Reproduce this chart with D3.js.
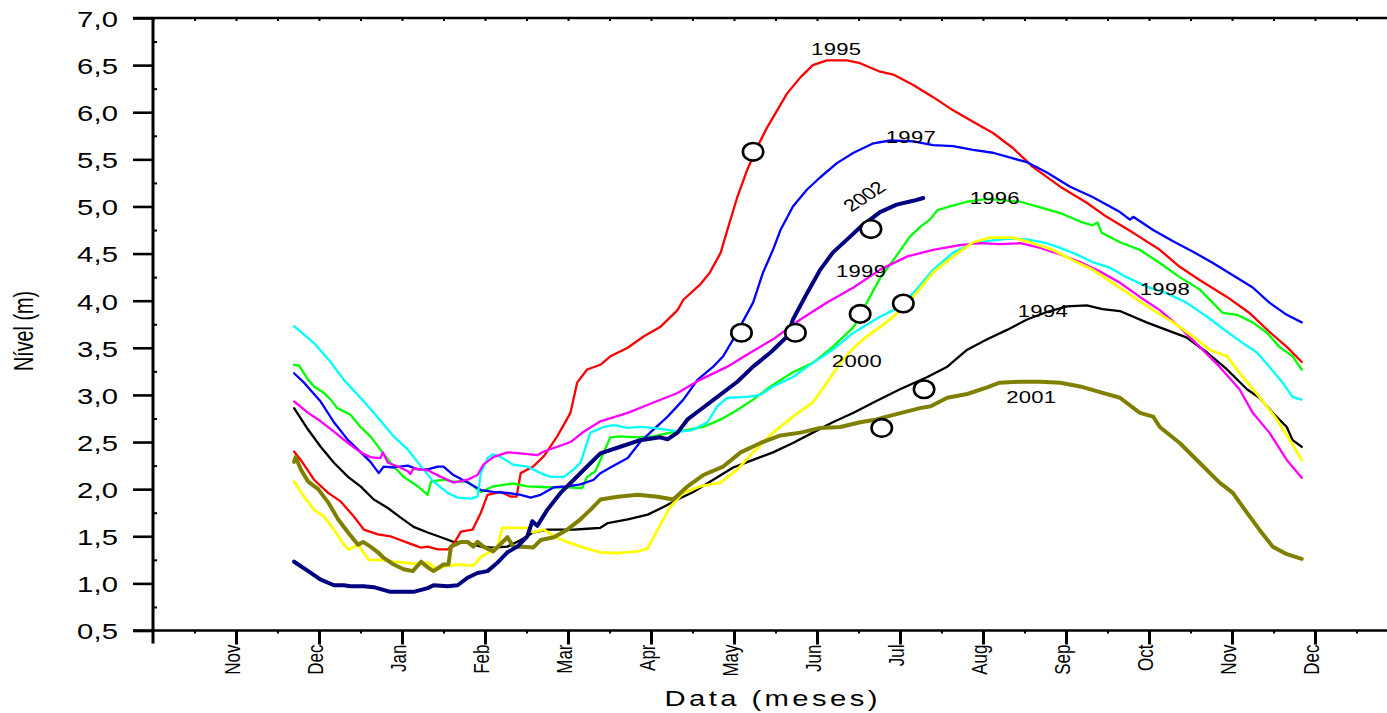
<!DOCTYPE html>
<html>
<head>
<meta charset="utf-8">
<script src="https://cdn.jsdelivr.net/npm/d3@7"></script>
<style>
  html, body { margin: 0; padding: 0; background: #fff; }
  svg { display: block; }
  text { font-family: "Liberation Sans", Arial, sans-serif; fill: #000; }
</style>
</head>
<body>
<svg id="chart" width="1387" height="713"></svg>
<script>
// Water level (m) per hydrological year, x = months elapsed since 1 October
const monthLabels = ["", "Nov", "Dec", "Jan", "Feb", "Mar", "Apr", "May", "Jun", "Jul", "Aug", "Sep", "Oct", "Nov", "Dec"];
const yTicks = [0.5, 1.0, 1.5, 2.0, 2.5, 3.0, 3.5, 4.0, 4.5, 5.0, 5.5, 6.0, 6.5, 7.0];

const years = ["1994", "1995", "1996", "1997", "1998", "1999", "2000", "2001", "2002"];
const colors = ["#000000", "#ff0000", "#00ff00", "#0000ff", "#00ffff", "#ff00ff", "#ffff00", "#808000", "#000080"];
const widths = [2.3, 2.3, 2.3, 2.3, 2.3, 2.3, 2.8, 4, 4];

const level1994 = [[1.70,2.86],[1.87,2.63],[2.02,2.45],[2.18,2.28],[2.35,2.13],[2.50,2.03],[2.66,1.89],[2.83,1.80],[2.98,1.70],[3.14,1.60],[3.31,1.54],[3.47,1.49],[3.62,1.44],[3.79,1.43],[3.95,1.39],[4.10,1.38],[4.27,1.39],[4.43,1.46],[4.58,1.54],[4.75,1.57],[4.91,1.57],[5.07,1.57],[5.23,1.58],[5.39,1.59],[5.48,1.64],[5.72,1.68],[5.96,1.73],[6.15,1.81],[6.32,1.89],[6.51,1.97],[6.75,2.10],[6.99,2.23],[7.23,2.31],[7.47,2.39],[7.71,2.49],[7.95,2.60],[8.19,2.71],[8.44,2.81],[8.68,2.92],[9.00,3.06],[9.33,3.19],[9.57,3.30],[9.81,3.48],[10.05,3.59],[10.29,3.69],[10.53,3.80],[10.77,3.88],[11.01,3.94],[11.25,3.95],[11.44,3.91],[11.65,3.89],[11.97,3.77],[12.21,3.69],[12.45,3.61],[12.70,3.45],[12.94,3.27],[13.18,3.06],[13.33,2.97],[13.49,2.81],[13.66,2.66],[13.73,2.52],[13.84,2.45]];

const level1995 = [[1.70,2.40],[1.78,2.31],[1.94,2.10],[2.11,1.96],[2.26,1.87],[2.42,1.71],[2.54,1.57],[2.71,1.52],[2.86,1.50],[3.07,1.43],[3.23,1.38],[3.31,1.39],[3.43,1.36],[3.55,1.36],[3.63,1.43],[3.71,1.55],[3.85,1.57],[3.95,1.75],[4.03,1.94],[4.19,1.97],[4.31,1.92],[4.38,1.92],[4.43,2.17],[4.58,2.24],[4.71,2.35],[4.87,2.56],[5.03,2.81],[5.11,3.13],[5.23,3.27],[5.39,3.32],[5.51,3.41],[5.72,3.50],[5.91,3.62],[6.11,3.72],[6.32,3.90],[6.39,4.01],[6.59,4.17],[6.71,4.30],[6.84,4.51],[6.92,4.75],[7.04,5.10],[7.16,5.39],[7.28,5.63],[7.40,5.84],[7.52,6.02],[7.64,6.20],[7.80,6.37],[7.95,6.50],[8.12,6.55],[8.36,6.55],[8.52,6.52],[8.76,6.43],[8.92,6.40],[9.16,6.29],[9.40,6.16],[9.64,6.02],[9.88,5.90],[10.12,5.78],[10.36,5.62],[10.60,5.42],[10.93,5.21],[11.25,5.04],[11.49,4.89],[11.81,4.72],[12.13,4.54],[12.37,4.36],[12.61,4.22],[12.94,4.04],[13.21,3.87],[13.45,3.67],[13.66,3.51],[13.84,3.35]];

const level1996 = [[1.70,3.32],[1.76,3.31],[1.87,3.16],[1.94,3.09],[2.06,3.02],[2.14,2.95],[2.22,2.86],[2.38,2.79],[2.50,2.66],[2.62,2.56],[2.74,2.42],[2.86,2.28],[3.02,2.13],[3.19,2.03],[3.31,1.94],[3.35,2.08],[3.50,2.10],[3.62,2.08],[3.79,2.08],[3.95,1.97],[4.10,2.03],[4.34,2.06],[4.51,2.03],[4.75,2.02],[4.99,2.02],[5.17,2.01],[5.23,2.13],[5.33,2.19],[5.39,2.31],[5.51,2.55],[5.63,2.56],[5.84,2.55],[6.03,2.56],[6.23,2.60],[6.44,2.63],[6.63,2.66],[6.84,2.74],[7.04,2.84],[7.23,2.95],[7.44,3.09],[7.71,3.24],[7.95,3.34],[8.19,3.51],[8.44,3.72],[8.60,3.98],[8.76,4.24],[8.92,4.43],[9.12,4.68],[9.24,4.78],[9.36,4.86],[9.45,4.96],[9.60,5.00],[9.81,5.05],[10.05,5.08],[10.20,5.07],[10.45,5.05],[10.69,4.99],[10.93,4.93],[11.17,4.84],[11.32,4.80],[11.38,4.83],[11.43,4.72],[11.65,4.62],[11.89,4.54],[12.13,4.40],[12.37,4.25],[12.61,4.12],[12.89,3.87],[13.06,3.85],[13.25,3.77],[13.42,3.66],[13.57,3.51],[13.73,3.41],[13.84,3.27]];

const level1997 = [[1.70,3.23],[1.82,3.13],[2.02,2.93],[2.18,2.71],[2.35,2.52],[2.47,2.42],[2.62,2.29],[2.72,2.17],[2.78,2.24],[2.90,2.23],[3.07,2.25],[3.19,2.21],[3.31,2.21],[3.43,2.24],[3.50,2.24],[3.62,2.15],[3.79,2.07],[3.95,1.99],[4.10,1.97],[4.27,1.96],[4.43,1.94],[4.55,1.91],[4.67,1.94],[4.83,2.02],[4.99,2.03],[5.15,2.05],[5.31,2.10],[5.39,2.17],[5.51,2.23],[5.72,2.33],[5.87,2.50],[5.99,2.60],[6.20,2.77],[6.39,2.95],[6.56,3.16],[6.75,3.30],[6.87,3.41],[6.99,3.59],[7.23,3.98],[7.35,4.30],[7.47,4.54],[7.56,4.75],[7.71,5.00],[7.88,5.18],[8.04,5.31],[8.24,5.46],[8.44,5.57],[8.68,5.67],[8.88,5.70],[9.16,5.69],[9.40,5.65],[9.64,5.64],[9.88,5.60],[10.12,5.57],[10.32,5.52],[10.53,5.47],[10.77,5.36],[11.05,5.21],[11.32,5.10],[11.65,4.94],[11.77,4.86],[11.81,4.89],[12.05,4.75],[12.29,4.63],[12.53,4.52],[12.77,4.40],[13.01,4.27],[13.25,4.14],[13.45,3.98],[13.66,3.85],[13.84,3.77]];

const level1998 = [[1.70,3.73],[1.94,3.55],[2.14,3.35],[2.30,3.16],[2.50,2.97],[2.66,2.81],[2.90,2.56],[3.07,2.42],[3.23,2.24],[3.38,2.08],[3.55,1.96],[3.67,1.91],[3.83,1.90],[3.91,1.92],[3.95,2.17],[4.03,2.33],[4.10,2.37],[4.19,2.34],[4.34,2.26],[4.51,2.24],[4.67,2.17],[4.79,2.13],[4.95,2.13],[5.07,2.21],[5.15,2.28],[5.27,2.60],[5.43,2.66],[5.55,2.68],[5.72,2.65],[5.87,2.66],[6.03,2.65],[6.20,2.63],[6.35,2.61],[6.51,2.63],[6.68,2.71],[6.80,2.88],[6.92,2.97],[7.16,2.98],[7.32,3.00],[7.47,3.09],[7.71,3.19],[7.95,3.34],[8.19,3.48],[8.44,3.66],[8.76,3.83],[8.92,3.90],[9.16,4.08],[9.40,4.33],[9.64,4.51],[9.88,4.61],[10.12,4.64],[10.32,4.66],[10.53,4.65],[10.77,4.61],[10.93,4.56],[11.13,4.49],[11.32,4.41],[11.53,4.35],[11.73,4.25],[11.97,4.15],[12.21,4.08],[12.45,3.98],[12.70,3.83],[12.94,3.67],[13.13,3.55],[13.30,3.45],[13.45,3.30],[13.61,3.13],[13.73,2.98],[13.84,2.95]];

const level1999 = [[1.70,2.93],[1.87,2.81],[2.02,2.72],[2.18,2.61],[2.35,2.49],[2.50,2.39],[2.62,2.34],[2.74,2.33],[2.77,2.39],[2.83,2.28],[2.95,2.24],[3.07,2.19],[3.10,2.16],[3.14,2.22],[3.31,2.20],[3.47,2.13],[3.62,2.07],[3.79,2.10],[3.91,2.15],[3.98,2.26],[4.10,2.34],[4.27,2.39],[4.43,2.38],[4.63,2.36],[4.71,2.40],[4.87,2.45],[5.03,2.50],[5.19,2.61],[5.39,2.72],[5.72,2.81],[6.03,2.92],[6.32,3.02],[6.59,3.16],[6.92,3.30],[7.16,3.43],[7.47,3.59],[7.80,3.80],[8.12,3.98],[8.44,4.14],[8.76,4.33],[9.09,4.47],[9.40,4.54],[9.72,4.59],[9.96,4.61],[10.20,4.60],[10.45,4.61],[10.69,4.56],[10.93,4.49],[11.17,4.41],[11.41,4.31],[11.65,4.19],[11.89,4.04],[12.13,3.90],[12.37,3.72],[12.61,3.51],[12.85,3.30],[13.09,3.06],[13.25,2.81],[13.45,2.60],[13.66,2.31],[13.84,2.12]];

const level2000 = [[1.70,2.08],[1.82,1.92],[1.94,1.78],[2.06,1.71],[2.18,1.57],[2.30,1.41],[2.36,1.36],[2.47,1.41],[2.60,1.25],[2.74,1.25],[2.90,1.23],[3.14,1.21],[3.31,1.22],[3.43,1.15],[3.50,1.18],[3.67,1.20],[3.86,1.19],[3.95,1.28],[4.03,1.32],[4.15,1.39],[4.21,1.59],[4.31,1.59],[4.51,1.59],[4.58,1.54],[4.71,1.57],[4.83,1.50],[4.99,1.44],[5.15,1.39],[5.39,1.33],[5.60,1.32],[5.84,1.34],[5.96,1.37],[6.08,1.57],[6.23,1.81],[6.39,1.96],[6.59,2.03],[6.84,2.07],[7.04,2.21],[7.23,2.39],[7.47,2.60],[7.71,2.77],[7.95,2.92],[8.12,3.13],[8.28,3.34],[8.44,3.50],[8.60,3.62],[8.76,3.72],[8.92,3.83],[9.16,4.04],[9.40,4.30],[9.64,4.47],[9.88,4.62],[10.08,4.67],[10.36,4.67],[10.60,4.61],[10.84,4.54],[11.08,4.43],[11.32,4.33],[11.56,4.19],[11.81,4.04],[12.05,3.90],[12.29,3.77],[12.53,3.62],[12.73,3.48],[12.94,3.41],[13.13,3.19],[13.33,2.98],[13.54,2.74],[13.69,2.53],[13.84,2.31]];

const level2001 = [[1.70,2.29],[1.72,2.34],[1.78,2.21],[1.87,2.08],[1.99,2.00],[2.11,1.86],[2.23,1.68],[2.35,1.54],[2.47,1.41],[2.53,1.44],[2.62,1.39],[2.71,1.33],[2.78,1.27],[2.90,1.20],[3.02,1.15],[3.13,1.13],[3.23,1.23],[3.31,1.17],[3.38,1.13],[3.50,1.20],[3.56,1.20],[3.59,1.39],[3.71,1.44],[3.79,1.44],[3.86,1.39],[3.91,1.44],[3.98,1.39],[4.10,1.34],[4.27,1.49],[4.34,1.39],[4.46,1.39],[4.58,1.38],[4.67,1.46],[4.83,1.49],[4.99,1.57],[5.15,1.68],[5.27,1.78],[5.39,1.89],[5.60,1.92],[5.84,1.94],[6.08,1.92],[6.27,1.89],[6.44,2.03],[6.63,2.15],[6.87,2.24],[7.08,2.39],[7.32,2.49],[7.56,2.57],[7.80,2.60],[8.04,2.65],[8.28,2.66],[8.52,2.71],[8.72,2.74],[8.84,2.77],[9.24,2.86],[9.37,2.88],[9.57,2.97],[9.81,3.01],[10.05,3.08],[10.20,3.13],[10.45,3.14],[10.69,3.14],[10.93,3.13],[11.17,3.09],[11.41,3.03],[11.65,2.97],[11.89,2.81],[12.05,2.77],[12.13,2.66],[12.37,2.49],[12.61,2.28],[12.85,2.07],[13.01,1.96],[13.18,1.75],[13.33,1.57],[13.49,1.39],[13.66,1.31],[13.84,1.26]];

const level2002 = [[1.70,1.23],[1.87,1.13],[2.02,1.04],[2.18,0.98],[2.30,0.98],[2.38,0.97],[2.54,0.97],[2.66,0.96],[2.86,0.91],[3.14,0.91],[3.31,0.95],[3.38,0.98],[3.55,0.97],[3.67,0.98],[3.79,1.06],[3.91,1.11],[4.03,1.13],[4.15,1.22],[4.27,1.33],[4.39,1.39],[4.51,1.50],[4.57,1.66],[4.63,1.61],[4.75,1.78],[4.91,1.96],[5.07,2.10],[5.23,2.24],[5.39,2.38],[5.63,2.45],[5.87,2.52],[6.11,2.55],[6.20,2.53],[6.32,2.60],[6.44,2.74],[6.59,2.84],[6.80,2.98],[7.04,3.14],[7.23,3.30],[7.44,3.45],[7.64,3.62],[7.71,3.80],[7.88,4.08],[8.04,4.33],[8.19,4.51],[8.40,4.68],[8.52,4.78],[8.76,4.94],[8.96,5.02],[9.16,5.06],[9.28,5.09]];

const levels = [level1994, level1995, level1996, level1997, level1998, level1999, level2000, level2001, level2002];

// Year label anchors [month, level]
const labelPos = [[10.72,3.83],[8.23,6.61],[10.14,5.03],[9.13,5.67],[12.19,4.06],[8.53,4.25],[8.48,3.30],[10.58,2.91],[8.63,5.06]];
// Highlighted observations (open circles)
const markers = [[7.23,5.58],[7.09,3.66],[7.74,3.66],[8.65,4.76],[8.52,3.86],[9.04,3.97],[9.29,3.06],[8.78,2.65]];

const svg = d3.select("#chart");
const plotLeft = 153, plotTop = 18, plotRight = 1387, plotBottom = 630.5;
const stretch = 1.3; // horizontal widening applied to all lettering

const x = d3.scaleLinear().domain([0, (plotRight - plotLeft) / 83]).range([plotLeft, plotRight]);
const y = d3.scaleLinear().domain([0.5, 7.0]).range([plotBottom, plotTop]);

const halfMonths = d3.range(0, 14.51, 0.5);
const quarterTicks = d3.range(0.75, 7.0, 0.5);

// frame lines
const frame = svg.append("g").attr("stroke", "#000").attr("fill", "none");
frame.append("line").attr("x1", 133).attr("x2", plotRight).attr("y1", plotTop).attr("y2", plotTop).attr("stroke-width", 2.4);
frame.append("line").attr("x1", 133).attr("x2", plotRight).attr("y1", plotBottom).attr("y2", plotBottom).attr("stroke-width", 2.6);
frame.append("line").attr("x1", plotLeft).attr("x2", plotLeft).attr("y1", plotTop).attr("y2", plotBottom + 13).attr("stroke-width", 3);

// minor ticks: top (inward), bottom (outward), left (inward)
svg.append("g").attr("transform", `translate(0,${plotTop})`)
  .call(d3.axisBottom(x).tickValues(halfMonths).tickSize(3).tickFormat(""))
  .call(g => g.select(".domain").remove())
  .call(g => g.selectAll("line").attr("stroke-width", 2));
svg.append("g").attr("transform", `translate(0,${plotBottom})`)
  .call(d3.axisBottom(x).tickValues(halfMonths.filter(d => d % 1 !== 0)).tickSize(3).tickFormat(""))
  .call(g => g.select(".domain").remove())
  .call(g => g.selectAll("line").attr("stroke-width", 2));
svg.append("g").attr("transform", `translate(${plotLeft},0)`)
  .call(d3.axisRight(y).tickValues(quarterTicks).tickSize(4).tickFormat(""))
  .call(g => g.select(".domain").remove())
  .call(g => g.selectAll("line").attr("stroke-width", 2));

// major x ticks with rotated month names
svg.append("g").attr("transform", `translate(0,${plotBottom})`)
  .call(d3.axisBottom(x).tickValues(d3.range(1, 15)).tickSize(14).tickSizeOuter(0)
    .tickFormat(d => monthLabels[d]))
  .call(g => g.select(".domain").remove())
  .call(g => g.selectAll("line").attr("stroke-width", 3))
  .call(g => g.selectAll("text")
    .attr("x", 0).attr("y", 0).attr("dy", "0.14em")
    .attr("transform", `translate(0,14) scale(${stretch},1) rotate(-90)`)
    .attr("text-anchor", "end")
    .style("font-size", "17px")
    .style("font-family", "Liberation Sans, Arial, sans-serif"));

// major y ticks with comma decimals
svg.append("g").attr("transform", `translate(${plotLeft},0)`)
  .call(d3.axisLeft(y).tickValues(yTicks).tickSize(20).tickPadding(15).tickSizeOuter(0)
    .tickFormat(d => d.toFixed(1).replace(".", ",")))
  .call(g => g.select(".domain").remove())
  .call(g => g.selectAll("line").attr("stroke-width", 2.6))
  .call(g => g.selectAll("text")
    .attr("x", 0).attr("dy", "0.37em")
    .attr("transform", `translate(-35,0) scale(${stretch},1)`)
    .attr("textLength", 41 / stretch).attr("lengthAdjust", "spacing")
    .style("font-size", "22.5px")
    .style("font-family", "Liberation Sans, Arial, sans-serif"));

// axis titles
svg.append("text")
  .attr("transform", `translate(771,706) scale(${stretch},1)`)
  .attr("text-anchor", "middle")
  .attr("textLength", 213 / stretch).attr("lengthAdjust", "spacing")
  .style("font-size", "22.5px")
  .text("Data (meses)");

svg.append("text")
  .attr("transform", `translate(33,331) scale(${stretch},1) rotate(-90)`)
  .attr("text-anchor", "middle")
  .attr("textLength", 80).attr("lengthAdjust", "spacingAndGlyphs")
  .style("font-size", "21px")
  .text("Nível (m)");

// level curves
const line = d3.line().x(d => x(d[0])).y(d => y(d[1]));
svg.append("g").attr("fill", "none").attr("stroke-linejoin", "round").attr("stroke-linecap", "round")
  .selectAll("path").data(levels).join("path")
  .attr("d", line)
  .attr("stroke", (d, i) => colors[i])
  .attr("stroke-width", (d, i) => widths[i]);

// open circle markers
svg.append("g").selectAll("ellipse").data(markers).join("ellipse")
  .attr("cx", d => x(d[0])).attr("cy", d => y(d[1]))
  .attr("rx", 10.2).attr("ry", 8.8)
  .attr("fill", "#fff").attr("stroke", "#000").attr("stroke-width", 2.6);

// year labels
svg.append("g").selectAll("text").data(years).join("text")
  .attr("transform", (d, i) => {
    const p = labelPos[i];
    const base = `translate(${x(p[0])},${y(p[1])}) scale(${stretch},1)`;
    return d === "2002" ? `${base} rotate(-40)` : base;
  })
  .attr("text-anchor", "middle")
  .attr("textLength", d => d === "2002" ? 36 : 50 / stretch)
  .attr("lengthAdjust", "spacing")
  .style("font-size", "17px")
  .text(d => d);
</script>
</body>
</html>
